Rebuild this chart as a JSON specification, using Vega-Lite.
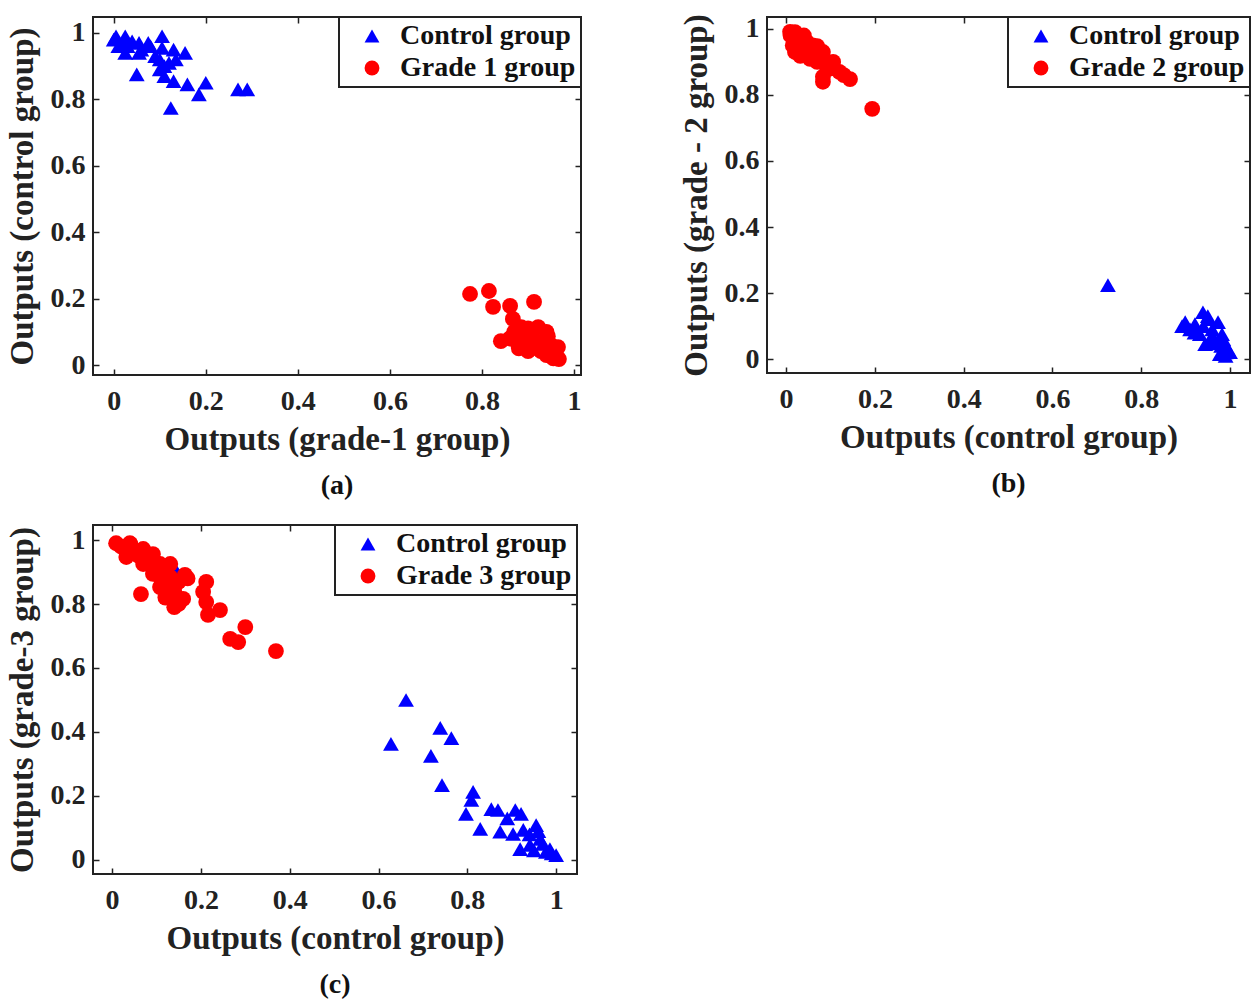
{
  "$schema": "https://vega.github.io/schema/vega-lite/v6.json",
  "background": "white",
  "padding": {"left": 5, "top": 12, "right": 2, "bottom": 0},
  "bounds": "flush",
  "columns": 2,
  "spacing": {"row": 150, "column": 186},
  "config": {
    "view": {"stroke": "#222222", "strokeWidth": 2},
    "font": "Liberation Serif",
    "axis": {
      "grid": false, "domain": false, "ticks": true, "tickSize": -6, "tickColor": "#222222", "tickWidth": 1.5,
      "labelFont": "Liberation Serif", "labelFontWeight": "bold", "labelFontSize": 28, "labelColor": "#222222",
      "titleFont": "Liberation Serif", "titleFontWeight": "bold", "titleFontSize": 33, "titleColor": "#222222"
    },
    "legend": {
      "orient": "top-right", "offset": 0, "strokeColor": "#222222", "strokeWidth": 2, "fillColor": "white",
      "padding": 5, "labelFont": "Liberation Serif", "labelFontWeight": "bold", "labelFontSize": 28, "labelColor": "#111111", "labelLimit": 400,
      "symbolSize": 220, "symbolOffset": 14, "labelOffset": 14, "rowPadding": 4, "title": null, "symbolStrokeWidth": 0
    },
    "title": {"font": "Liberation Serif", "fontWeight": "bold", "fontSize": 28, "color": "#111111", "orient": "bottom", "anchor": "middle", "offset": 16}
  },
  "datasets": {
    "a": [
      {"x": 0.005, "y": 0.99, "g": "Control group"}, {"x": 0.025, "y": 0.99, "g": "Control group"}, {"x": 0.0, "y": 0.98, "g": "Control group"},
      {"x": 0.01, "y": 0.96, "g": "Control group"}, {"x": 0.04, "y": 0.975, "g": "Control group"}, {"x": 0.055, "y": 0.97, "g": "Control group"},
      {"x": 0.075, "y": 0.97, "g": "Control group"}, {"x": 0.105, "y": 0.99, "g": "Control group"}, {"x": 0.13, "y": 0.95, "g": "Control group"},
      {"x": 0.155, "y": 0.94, "g": "Control group"}, {"x": 0.135, "y": 0.92, "g": "Control group"}, {"x": 0.025, "y": 0.94, "g": "Control group"},
      {"x": 0.055, "y": 0.94, "g": "Control group"}, {"x": 0.05, "y": 0.875, "g": "Control group"}, {"x": 0.1, "y": 0.89, "g": "Control group"},
      {"x": 0.11, "y": 0.87, "g": "Control group"}, {"x": 0.13, "y": 0.855, "g": "Control group"}, {"x": 0.16, "y": 0.845, "g": "Control group"},
      {"x": 0.2, "y": 0.85, "g": "Control group"}, {"x": 0.185, "y": 0.815, "g": "Control group"}, {"x": 0.124, "y": 0.774, "g": "Control group"},
      {"x": 0.27, "y": 0.83, "g": "Control group"}, {"x": 0.29, "y": 0.83, "g": "Control group"}, {"x": 0.02, "y": 0.97, "g": "Control group"},
      {"x": 0.03, "y": 0.96, "g": "Control group"}, {"x": 0.06, "y": 0.95, "g": "Control group"}, {"x": 0.09, "y": 0.93, "g": "Control group"},
      {"x": 0.1, "y": 0.92, "g": "Control group"}, {"x": 0.11, "y": 0.9, "g": "Control group"}, {"x": 0.12, "y": 0.91, "g": "Control group"},
      {"x": 0.08, "y": 0.96, "g": "Control group"}, {"x": 0.105, "y": 0.955, "g": "Control group"},
      {"x": 0.774, "y": 0.214, "g": "Grade 1 group"}, {"x": 0.815, "y": 0.223, "g": "Grade 1 group"}, {"x": 0.824, "y": 0.175, "g": "Grade 1 group"},
      {"x": 0.861, "y": 0.178, "g": "Grade 1 group"}, {"x": 0.913, "y": 0.19, "g": "Grade 1 group"}, {"x": 0.867, "y": 0.139, "g": "Grade 1 group"},
      {"x": 0.885, "y": 0.114, "g": "Grade 1 group"}, {"x": 0.922, "y": 0.114, "g": "Grade 1 group"}, {"x": 0.841, "y": 0.072, "g": "Grade 1 group"},
      {"x": 0.878, "y": 0.063, "g": "Grade 1 group"}, {"x": 0.907, "y": 0.063, "g": "Grade 1 group"}, {"x": 0.943, "y": 0.087, "g": "Grade 1 group"},
      {"x": 0.928, "y": 0.042, "g": "Grade 1 group"}, {"x": 0.965, "y": 0.054, "g": "Grade 1 group"}, {"x": 0.967, "y": 0.018, "g": "Grade 1 group"},
      {"x": 0.95, "y": 0.033, "g": "Grade 1 group"}, {"x": 0.9, "y": 0.042, "g": "Grade 1 group"}, {"x": 0.89, "y": 0.09, "g": "Grade 1 group"},
      {"x": 0.91, "y": 0.08, "g": "Grade 1 group"}, {"x": 0.93, "y": 0.07, "g": "Grade 1 group"}, {"x": 0.87, "y": 0.1, "g": "Grade 1 group"},
      {"x": 0.92, "y": 0.05, "g": "Grade 1 group"}, {"x": 0.95, "y": 0.06, "g": "Grade 1 group"}, {"x": 0.94, "y": 0.03, "g": "Grade 1 group"},
      {"x": 0.96, "y": 0.04, "g": "Grade 1 group"}, {"x": 0.9, "y": 0.11, "g": "Grade 1 group"}, {"x": 0.86, "y": 0.08, "g": "Grade 1 group"},
      {"x": 0.88, "y": 0.05, "g": "Grade 1 group"}, {"x": 0.94, "y": 0.1, "g": "Grade 1 group"}, {"x": 0.955, "y": 0.02, "g": "Grade 1 group"}
    ],
    "b": [
      {"x": 0.725, "y": 0.224, "g": "Control group"}, {"x": 0.899, "y": 0.112, "g": "Control group"}, {"x": 0.892, "y": 0.1, "g": "Control group"},
      {"x": 0.921, "y": 0.106, "g": "Control group"}, {"x": 0.939, "y": 0.142, "g": "Control group"}, {"x": 0.95, "y": 0.121, "g": "Control group"},
      {"x": 0.973, "y": 0.112, "g": "Control group"}, {"x": 0.982, "y": 0.076, "g": "Control group"}, {"x": 0.932, "y": 0.076, "g": "Control group"},
      {"x": 0.955, "y": 0.06, "g": "Control group"}, {"x": 0.989, "y": 0.045, "g": "Control group"}, {"x": 1.0, "y": 0.021, "g": "Control group"},
      {"x": 0.966, "y": 0.048, "g": "Control group"}, {"x": 0.977, "y": 0.015, "g": "Control group"}, {"x": 0.995, "y": 0.03, "g": "Control group"},
      {"x": 0.91, "y": 0.09, "g": "Control group"}, {"x": 0.96, "y": 0.09, "g": "Control group"}, {"x": 0.944, "y": 0.045, "g": "Control group"},
      {"x": 0.94, "y": 0.1, "g": "Control group"}, {"x": 0.96, "y": 0.07, "g": "Control group"}, {"x": 0.97, "y": 0.05, "g": "Control group"},
      {"x": 0.98, "y": 0.04, "g": "Control group"}, {"x": 0.99, "y": 0.02, "g": "Control group"}, {"x": 0.92, "y": 0.08, "g": "Control group"},
      {"x": 0.95, "y": 0.13, "g": "Control group"}, {"x": 0.985, "y": 0.06, "g": "Control group"}, {"x": 0.99, "y": 0.01, "g": "Control group"},
      {"x": 0.009, "y": 0.991, "g": "Grade 2 group"}, {"x": 0.025, "y": 0.97, "g": "Grade 2 group"}, {"x": 0.047, "y": 0.96, "g": "Grade 2 group"},
      {"x": 0.07, "y": 0.948, "g": "Grade 2 group"}, {"x": 0.083, "y": 0.93, "g": "Grade 2 group"}, {"x": 0.032, "y": 0.918, "g": "Grade 2 group"},
      {"x": 0.054, "y": 0.909, "g": "Grade 2 group"}, {"x": 0.106, "y": 0.9, "g": "Grade 2 group"}, {"x": 0.144, "y": 0.848, "g": "Grade 2 group"},
      {"x": 0.083, "y": 0.855, "g": "Grade 2 group"}, {"x": 0.083, "y": 0.84, "g": "Grade 2 group"}, {"x": 0.194, "y": 0.758, "g": "Grade 2 group"},
      {"x": 0.01, "y": 0.98, "g": "Grade 2 group"}, {"x": 0.02, "y": 0.99, "g": "Grade 2 group"}, {"x": 0.015, "y": 0.95, "g": "Grade 2 group"},
      {"x": 0.03, "y": 0.96, "g": "Grade 2 group"}, {"x": 0.04, "y": 0.94, "g": "Grade 2 group"}, {"x": 0.05, "y": 0.93, "g": "Grade 2 group"},
      {"x": 0.06, "y": 0.92, "g": "Grade 2 group"}, {"x": 0.07, "y": 0.9, "g": "Grade 2 group"}, {"x": 0.09, "y": 0.89, "g": "Grade 2 group"},
      {"x": 0.12, "y": 0.87, "g": "Grade 2 group"}, {"x": 0.13, "y": 0.86, "g": "Grade 2 group"}, {"x": 0.1, "y": 0.88, "g": "Grade 2 group"},
      {"x": 0.04, "y": 0.98, "g": "Grade 2 group"}, {"x": 0.06, "y": 0.95, "g": "Grade 2 group"}, {"x": 0.02, "y": 0.93, "g": "Grade 2 group"}
    ],
    "c": [
      {"x": 0.142, "y": 0.91, "g": "Control group"},
      {"x": 0.662, "y": 0.5, "g": "Control group"}, {"x": 0.739, "y": 0.413, "g": "Control group"}, {"x": 0.764, "y": 0.381, "g": "Control group"},
      {"x": 0.628, "y": 0.363, "g": "Control group"}, {"x": 0.718, "y": 0.325, "g": "Control group"}, {"x": 0.743, "y": 0.234, "g": "Control group"},
      {"x": 0.813, "y": 0.213, "g": "Control group"}, {"x": 0.809, "y": 0.188, "g": "Control group"}, {"x": 0.797, "y": 0.144, "g": "Control group"},
      {"x": 0.829, "y": 0.097, "g": "Control group"}, {"x": 0.854, "y": 0.159, "g": "Control group"}, {"x": 0.869, "y": 0.156, "g": "Control group"},
      {"x": 0.908, "y": 0.156, "g": "Control group"}, {"x": 0.921, "y": 0.144, "g": "Control group"}, {"x": 0.874, "y": 0.088, "g": "Control group"},
      {"x": 0.903, "y": 0.081, "g": "Control group"}, {"x": 0.926, "y": 0.094, "g": "Control group"}, {"x": 0.955, "y": 0.109, "g": "Control group"},
      {"x": 0.964, "y": 0.066, "g": "Control group"}, {"x": 0.986, "y": 0.034, "g": "Control group"}, {"x": 1.0, "y": 0.015, "g": "Control group"},
      {"x": 0.977, "y": 0.025, "g": "Control group"}, {"x": 0.941, "y": 0.047, "g": "Control group"}, {"x": 0.919, "y": 0.034, "g": "Control group"},
      {"x": 0.94, "y": 0.08, "g": "Control group"}, {"x": 0.97, "y": 0.05, "g": "Control group"}, {"x": 0.95, "y": 0.03, "g": "Control group"},
      {"x": 0.99, "y": 0.02, "g": "Control group"}, {"x": 0.89, "y": 0.13, "g": "Control group"}, {"x": 0.96, "y": 0.09, "g": "Control group"},
      {"x": 0.009, "y": 0.99, "g": "Grade 3 group"}, {"x": 0.041, "y": 0.988, "g": "Grade 3 group"}, {"x": 0.07, "y": 0.972, "g": "Grade 3 group"},
      {"x": 0.092, "y": 0.956, "g": "Grade 3 group"}, {"x": 0.032, "y": 0.947, "g": "Grade 3 group"}, {"x": 0.07, "y": 0.925, "g": "Grade 3 group"},
      {"x": 0.108, "y": 0.925, "g": "Grade 3 group"}, {"x": 0.131, "y": 0.925, "g": "Grade 3 group"}, {"x": 0.092, "y": 0.894, "g": "Grade 3 group"},
      {"x": 0.131, "y": 0.884, "g": "Grade 3 group"}, {"x": 0.164, "y": 0.891, "g": "Grade 3 group"}, {"x": 0.144, "y": 0.863, "g": "Grade 3 group"},
      {"x": 0.108, "y": 0.853, "g": "Grade 3 group"}, {"x": 0.065, "y": 0.831, "g": "Grade 3 group"}, {"x": 0.144, "y": 0.806, "g": "Grade 3 group"},
      {"x": 0.16, "y": 0.816, "g": "Grade 3 group"}, {"x": 0.212, "y": 0.869, "g": "Grade 3 group"}, {"x": 0.205, "y": 0.838, "g": "Grade 3 group"},
      {"x": 0.212, "y": 0.806, "g": "Grade 3 group"}, {"x": 0.216, "y": 0.766, "g": "Grade 3 group"}, {"x": 0.243, "y": 0.781, "g": "Grade 3 group"},
      {"x": 0.3, "y": 0.728, "g": "Grade 3 group"}, {"x": 0.266, "y": 0.691, "g": "Grade 3 group"}, {"x": 0.284, "y": 0.681, "g": "Grade 3 group"},
      {"x": 0.369, "y": 0.653, "g": "Grade 3 group"}, {"x": 0.02, "y": 0.98, "g": "Grade 3 group"}, {"x": 0.03, "y": 0.97, "g": "Grade 3 group"},
      {"x": 0.05, "y": 0.96, "g": "Grade 3 group"}, {"x": 0.06, "y": 0.95, "g": "Grade 3 group"}, {"x": 0.08, "y": 0.94, "g": "Grade 3 group"},
      {"x": 0.1, "y": 0.91, "g": "Grade 3 group"}, {"x": 0.12, "y": 0.9, "g": "Grade 3 group"}, {"x": 0.11, "y": 0.88, "g": "Grade 3 group"},
      {"x": 0.13, "y": 0.86, "g": "Grade 3 group"}, {"x": 0.14, "y": 0.84, "g": "Grade 3 group"}, {"x": 0.15, "y": 0.87, "g": "Grade 3 group"},
      {"x": 0.12, "y": 0.82, "g": "Grade 3 group"}, {"x": 0.14, "y": 0.79, "g": "Grade 3 group"}, {"x": 0.04, "y": 0.99, "g": "Grade 3 group"},
      {"x": 0.09, "y": 0.93, "g": "Grade 3 group"}, {"x": 0.17, "y": 0.88, "g": "Grade 3 group"}, {"x": 0.15, "y": 0.8, "g": "Grade 3 group"}
    ]
  },
  "resolve": {"scale": {"color": "independent", "shape": "independent"}, "legend": {"color": "independent", "shape": "independent"}},
  "concat": [
    {
      "width": 488, "height": 358,
      "title": {"text": "(a)"},
      "data": {"name": "a"},
      "layer": [
        {
          "mark": {"type": "point", "filled": true, "opacity": 1, "size": 250, "strokeWidth": 0},
          "encoding": {
            "x": {"field": "x", "type": "quantitative", "scale": {"domain": [-0.045, 1.015], "nice": false, "zero": false}, "axis": {"title": "Outputs (grade-1 group)", "values": [0, 0.2, 0.4, 0.6, 0.8, 1], "format": "~g", "labelPadding": 18, "titlePadding": 8}},
            "y": {"field": "y", "type": "quantitative", "scale": {"domain": [-0.03, 1.048], "nice": false, "zero": false}, "axis": {"title": "Outputs (control group)", "values": [0, 0.2, 0.4, 0.6, 0.8, 1], "format": "~g", "labelPadding": 14, "titlePadding": 11}},
            "color": {"field": "g", "type": "nominal", "scale": {"domain": ["Control group", "Grade 1 group"], "range": ["#0000ff", "#ff0000"]}},
            "shape": {"field": "g", "type": "nominal", "scale": {"domain": ["Control group", "Grade 1 group"], "range": ["triangle-up", "circle"]}}
          }
        },
        {
          "mark": {"type": "point", "opacity": 0},
          "encoding": {
            "x": {"field": "x", "type": "quantitative", "axis": {"orient": "top", "labels": false, "title": null, "values": [0, 0.2, 0.4, 0.6, 0.8, 1]}},
            "y": {"field": "y", "type": "quantitative", "axis": {"orient": "right", "labels": false, "title": null, "values": [0, 0.2, 0.4, 0.6, 0.8, 1]}}
          }
        }
      ],
      "resolve": {"axis": {"x": "independent", "y": "independent"}}
    },
    {
      "width": 483, "height": 356,
      "title": {"text": "(b)"},
      "data": {"name": "b"},
      "layer": [
        {
          "mark": {"type": "point", "filled": true, "opacity": 1, "size": 250, "strokeWidth": 0},
          "encoding": {
            "x": {"field": "x", "type": "quantitative", "scale": {"domain": [-0.043, 1.045], "nice": false, "zero": false}, "axis": {"title": "Outputs (control group)", "values": [0, 0.2, 0.4, 0.6, 0.8, 1], "format": "~g", "labelPadding": 18, "titlePadding": 8}},
            "y": {"field": "y", "type": "quantitative", "scale": {"domain": [-0.042, 1.036], "nice": false, "zero": false}, "axis": {"title": "Outputs (grade - 2 group)", "values": [0, 0.2, 0.4, 0.6, 0.8, 1], "format": "~g", "labelPadding": 14, "titlePadding": 11}},
            "color": {"field": "g", "type": "nominal", "scale": {"domain": ["Control group", "Grade 2 group"], "range": ["#0000ff", "#ff0000"]}},
            "shape": {"field": "g", "type": "nominal", "scale": {"domain": ["Control group", "Grade 2 group"], "range": ["triangle-up", "circle"]}}
          }
        },
        {
          "mark": {"type": "point", "opacity": 0},
          "encoding": {
            "x": {"field": "x", "type": "quantitative", "axis": {"orient": "top", "labels": false, "title": null, "values": [0, 0.2, 0.4, 0.6, 0.8, 1]}},
            "y": {"field": "y", "type": "quantitative", "axis": {"orient": "right", "labels": false, "title": null, "values": [0, 0.2, 0.4, 0.6, 0.8, 1]}}
          }
        }
      ],
      "resolve": {"axis": {"x": "independent", "y": "independent"}}
    },
    {
      "width": 484, "height": 349,
      "title": {"text": "(c)"},
      "data": {"name": "c"},
      "layer": [
        {
          "mark": {"type": "point", "filled": true, "opacity": 1, "size": 250, "strokeWidth": 0},
          "encoding": {
            "x": {"field": "x", "type": "quantitative", "scale": {"domain": [-0.043, 1.047], "nice": false, "zero": false}, "axis": {"title": "Outputs (control group)", "values": [0, 0.2, 0.4, 0.6, 0.8, 1], "format": "~g", "labelPadding": 18, "titlePadding": 8}},
            "y": {"field": "y", "type": "quantitative", "scale": {"domain": [-0.044, 1.047], "nice": false, "zero": false}, "axis": {"title": "Outputs (grade-3 group)", "values": [0, 0.2, 0.4, 0.6, 0.8, 1], "format": "~g", "labelPadding": 14, "titlePadding": 11}},
            "color": {"field": "g", "type": "nominal", "scale": {"domain": ["Control group", "Grade 3 group"], "range": ["#0000ff", "#ff0000"]}},
            "shape": {"field": "g", "type": "nominal", "scale": {"domain": ["Control group", "Grade 3 group"], "range": ["triangle-up", "circle"]}}
          }
        },
        {
          "mark": {"type": "point", "opacity": 0},
          "encoding": {
            "x": {"field": "x", "type": "quantitative", "axis": {"orient": "top", "labels": false, "title": null, "values": [0, 0.2, 0.4, 0.6, 0.8, 1]}},
            "y": {"field": "y", "type": "quantitative", "axis": {"orient": "right", "labels": false, "title": null, "values": [0, 0.2, 0.4, 0.6, 0.8, 1]}}
          }
        }
      ],
      "resolve": {"axis": {"x": "independent", "y": "independent"}}
    }
  ]
}
